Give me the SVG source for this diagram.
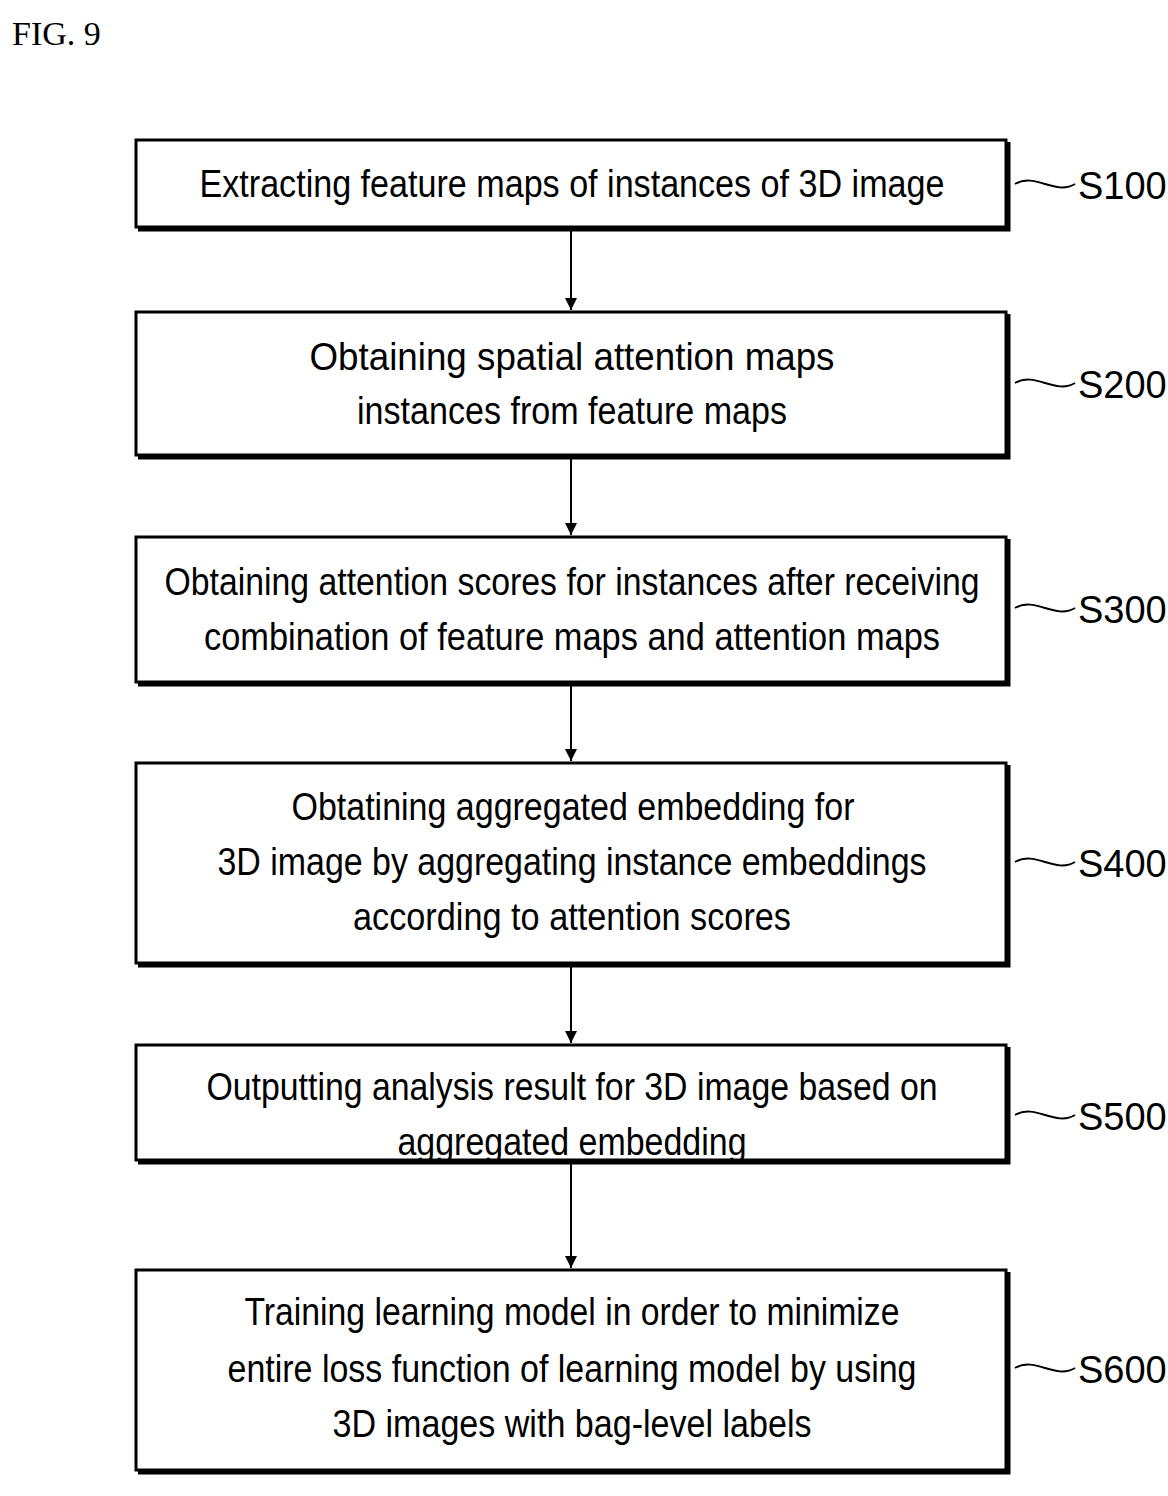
<svg xmlns="http://www.w3.org/2000/svg" width="1168" height="1496" viewBox="0 0 1168 1496">
<defs>
<style>
.b{fill:#fff;stroke:#000;stroke-width:3}
.s{fill:none;stroke:#000;stroke-width:5}
.t{font-family:"Liberation Sans Narrow","Liberation Sans",sans-serif;font-size:38px;text-anchor:middle;fill:#000}
.l{font-family:"Liberation Sans Narrow","Liberation Sans",sans-serif;font-size:38px;fill:#000}
.c{fill:none;stroke:#000;stroke-width:2}
.a{stroke:#000;stroke-width:2}
</style>
<marker id="ah" viewBox="0 0 10 10" refX="10" refY="5" markerWidth="12" markerHeight="12" markerUnits="userSpaceOnUse" orient="auto"><path d="M0,0L10,5L0,10z"/></marker>
</defs>
<rect width="1168" height="1496" fill="#fff"/>
<text x="12" y="45" font-family="Liberation Serif,serif" font-size="34">FIG. 9</text>
<g id="connectors">
<line class="a" x1="571" y1="229" x2="571" y2="310" marker-end="url(#ah)"/>
<line class="a" x1="571" y1="457" x2="571" y2="535" marker-end="url(#ah)"/>
<line class="a" x1="571" y1="684" x2="571" y2="761" marker-end="url(#ah)"/>
<line class="a" x1="571" y1="965" x2="571" y2="1043" marker-end="url(#ah)"/>
<line class="a" x1="571" y1="1162" x2="571" y2="1268" marker-end="url(#ah)"/>
</g>
<g id="n1"><path class="s" d="M1008,142V229H138"/><rect class="b" x="136" y="140" width="870" height="87"/>
<text class="t" x="572" y="197" textLength="745" lengthAdjust="spacingAndGlyphs">Extracting feature maps of instances of 3D image</text>
<path class="c" d="M1015,184c20,-12 40,12 60,0"/><text class="l" x="1078" y="199">S100</text></g>
<g id="n2"><path class="s" d="M1008,314V457H138"/><rect class="b" x="136" y="312" width="870" height="143"/>
<text class="t" x="572" y="370" textLength="525" lengthAdjust="spacingAndGlyphs">Obtaining spatial attention maps</text>
<text class="t" x="572" y="424" textLength="430" lengthAdjust="spacingAndGlyphs">instances from feature maps</text>
<path class="c" d="M1015,383c20,-12 40,12 60,0"/><text class="l" x="1078" y="398">S200</text></g>
<g id="n3"><path class="s" d="M1008,539V684H138"/><rect class="b" x="136" y="537" width="870" height="145"/>
<text class="t" x="572" y="595" textLength="815" lengthAdjust="spacingAndGlyphs">Obtaining attention scores for instances after receiving</text>
<text class="t" x="572" y="650" textLength="736" lengthAdjust="spacingAndGlyphs">combination of feature maps and attention maps</text>
<path class="c" d="M1015,608c20,-12 40,12 60,0"/><text class="l" x="1078" y="623">S300</text></g>
<g id="n4"><path class="s" d="M1008,765V965H138"/><rect class="b" x="136" y="763" width="870" height="200"/>
<text class="t" x="573" y="820" textLength="563" lengthAdjust="spacingAndGlyphs">Obtatining aggregated embedding for</text>
<text class="t" x="572" y="875" textLength="709" lengthAdjust="spacingAndGlyphs">3D image by aggregating instance embeddings</text>
<text class="t" x="572" y="930" textLength="438" lengthAdjust="spacingAndGlyphs">according to attention scores</text>
<path class="c" d="M1015,862c20,-12 40,12 60,0"/><text class="l" x="1078" y="877">S400</text></g>
<g id="n5"><path class="s" d="M1008,1047V1162H138"/><rect class="b" x="136" y="1045" width="870" height="115"/>
<text class="t" x="572" y="1100" textLength="731" lengthAdjust="spacingAndGlyphs">Outputting analysis result for 3D image based on</text>
<text class="t" x="572" y="1155" textLength="349" lengthAdjust="spacingAndGlyphs">aggregated embedding</text>
<path class="c" d="M1015,1115c20,-12 40,12 60,0"/><text class="l" x="1078" y="1130">S500</text></g>
<g id="n6"><path class="s" d="M1008,1272V1472H138"/><rect class="b" x="136" y="1270" width="870" height="200"/>
<text class="t" x="572" y="1325" textLength="655" lengthAdjust="spacingAndGlyphs">Training learning model in order to minimize</text>
<text class="t" x="572" y="1382" textLength="689" lengthAdjust="spacingAndGlyphs">entire loss function of learning model by using</text>
<text class="t" x="572" y="1437" textLength="479" lengthAdjust="spacingAndGlyphs">3D images with bag-level labels</text>
<path class="c" d="M1015,1368c20,-12 40,12 60,0"/><text class="l" x="1078" y="1383">S600</text></g>
</svg>
